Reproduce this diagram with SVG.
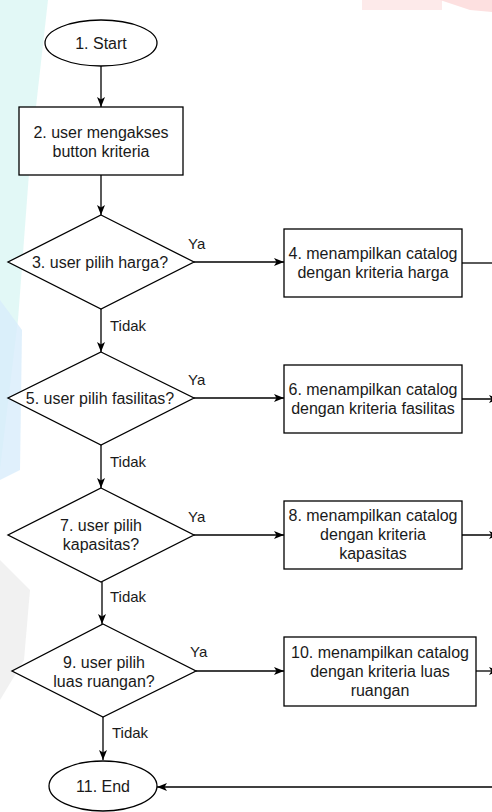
<svg xmlns="http://www.w3.org/2000/svg" width="492" height="812" viewBox="0 0 492 812">
  <defs>
    <style>
      .shape { fill: #ffffff; stroke: #000000; stroke-width: 1.3; }
      .edge { fill: none; stroke: #000000; stroke-width: 1.3; }
      .t { font-family: "Liberation Sans", Arial, Helvetica, sans-serif; font-size: 16px; fill: #1a1a1a; text-anchor: middle; }
      .lbl { font-family: "Liberation Sans", Arial, Helvetica, sans-serif; font-size: 15px; fill: #1a1a1a; }
      .wm { stroke: none; }
    </style>
    <marker id="arr" markerWidth="10" markerHeight="8" refX="10" refY="4" orient="auto" markerUnits="userSpaceOnUse">
      <path d="M0,0 L10,4 L0,8 L2.5,4 z" fill="#000000"/>
    </marker>
  </defs>

  <rect width="492" height="812" fill="#ffffff"/>

  <!-- faint background marks -->
  <g id="background">
    <polygon class="wm" points="0,0 48,0 30,160 18,320 0,470" fill="#d6f5f2" opacity="0.7"/>
    <polygon class="wm" points="0,300 22,330 20,470 0,480" fill="#d8ecfb" opacity="0.8"/>
    <polygon class="wm" points="0,560 30,590 24,660 0,700" fill="#eeeeee" opacity="0.8"/>
    <rect class="wm" x="362" y="0" width="80" height="10" fill="#fdeaea"/>
    <polygon class="wm" points="440,0 492,0 492,12 470,10" fill="#fde0e0"/>
  </g>

  <g id="connectors">
    <path class="edge" d="M101,66 V107" marker-end="url(#arr)"/>
    <path class="edge" d="M101,175 V215" marker-end="url(#arr)"/>
    <path class="edge" d="M101,309 V352" marker-end="url(#arr)"/>
    <path class="edge" d="M101,445 V488" marker-end="url(#arr)"/>
    <path class="edge" d="M102,582 V624" marker-end="url(#arr)"/>
    <path class="edge" d="M103,717 V760" marker-end="url(#arr)"/>
    <path class="edge" d="M194,262 H284" marker-end="url(#arr)"/>
    <path class="edge" d="M194,398 H284" marker-end="url(#arr)"/>
    <path class="edge" d="M194,535 H284" marker-end="url(#arr)"/>
    <path class="edge" d="M196,671 H284" marker-end="url(#arr)"/>
    <path class="edge" d="M462,263 H492"/>
    <path class="edge" d="M462,399 H499" marker-end="url(#arr)"/>
    <path class="edge" d="M462,535 H499" marker-end="url(#arr)"/>
    <path class="edge" d="M476,671 H499" marker-end="url(#arr)"/>
    <path class="edge" d="M492,787 H157" marker-end="url(#arr)"/>
    <text class="lbl" x="188" y="249">Ya</text>
    <text class="lbl" x="188" y="385">Ya</text>
    <text class="lbl" x="188" y="522">Ya</text>
    <text class="lbl" x="190" y="657">Ya</text>
    <text class="lbl" x="110" y="331">Tidak</text>
    <text class="lbl" x="110" y="467">Tidak</text>
    <text class="lbl" x="110" y="602">Tidak</text>
    <text class="lbl" x="112" y="738">Tidak</text>
  </g>

  <g id="n1">
    <ellipse class="shape" cx="101" cy="43" rx="56" ry="23"/>
    <text class="t" x="101" y="49">1. Start</text>
  </g>

  <g id="n2">
    <rect class="shape" x="19" y="107" width="164" height="68"/>
    <text class="t" x="101" y="138">2. user mengakses</text>
    <text class="t" x="101" y="157">button kriteria</text>
  </g>

  <g id="n3">
    <polygon class="shape" points="101,215 194,262 101,309 8,262"/>
    <text class="t" x="100" y="268">3. user pilih harga?</text>
  </g>

  <g id="n4">
    <rect class="shape" x="284" y="229" width="178" height="68"/>
    <text class="t" x="373" y="259">4. menampilkan catalog</text>
    <text class="t" x="373" y="278">dengan kriteria harga</text>
  </g>

  <g id="n5">
    <polygon class="shape" points="101,352 194,398 101,445 8,398"/>
    <text class="t" x="100" y="404">5. user pilih fasilitas?</text>
  </g>

  <g id="n6">
    <rect class="shape" x="284" y="365" width="178" height="68"/>
    <text class="t" x="373" y="395">6. menampilkan catalog</text>
    <text class="t" x="373" y="414">dengan kriteria fasilitas</text>
  </g>

  <g id="n7">
    <polygon class="shape" points="101,488 194,535 101,582 8,535"/>
    <text class="t" x="101" y="531">7. user pilih</text>
    <text class="t" x="101" y="550">kapasitas?</text>
  </g>

  <g id="n8">
    <rect class="shape" x="284" y="501" width="178" height="68"/>
    <text class="t" x="373" y="521">8. menampilkan catalog</text>
    <text class="t" x="373" y="540">dengan kriteria</text>
    <text class="t" x="373" y="559">kapasitas</text>
  </g>

  <g id="n9">
    <polygon class="shape" points="103,624 196,671 103,717 12,671"/>
    <text class="t" x="104" y="668">9. user pilih</text>
    <text class="t" x="104" y="687">luas ruangan?</text>
  </g>

  <g id="n10">
    <rect class="shape" x="284" y="637" width="192" height="69"/>
    <text class="t" x="380" y="658">10. menampilkan catalog</text>
    <text class="t" x="380" y="677">dengan kriteria luas</text>
    <text class="t" x="380" y="696">ruangan</text>
  </g>

  <g id="n11">
    <ellipse class="shape" cx="103" cy="786" rx="54" ry="25"/>
    <text class="t" x="103" y="792">11. End</text>
  </g>
</svg>
